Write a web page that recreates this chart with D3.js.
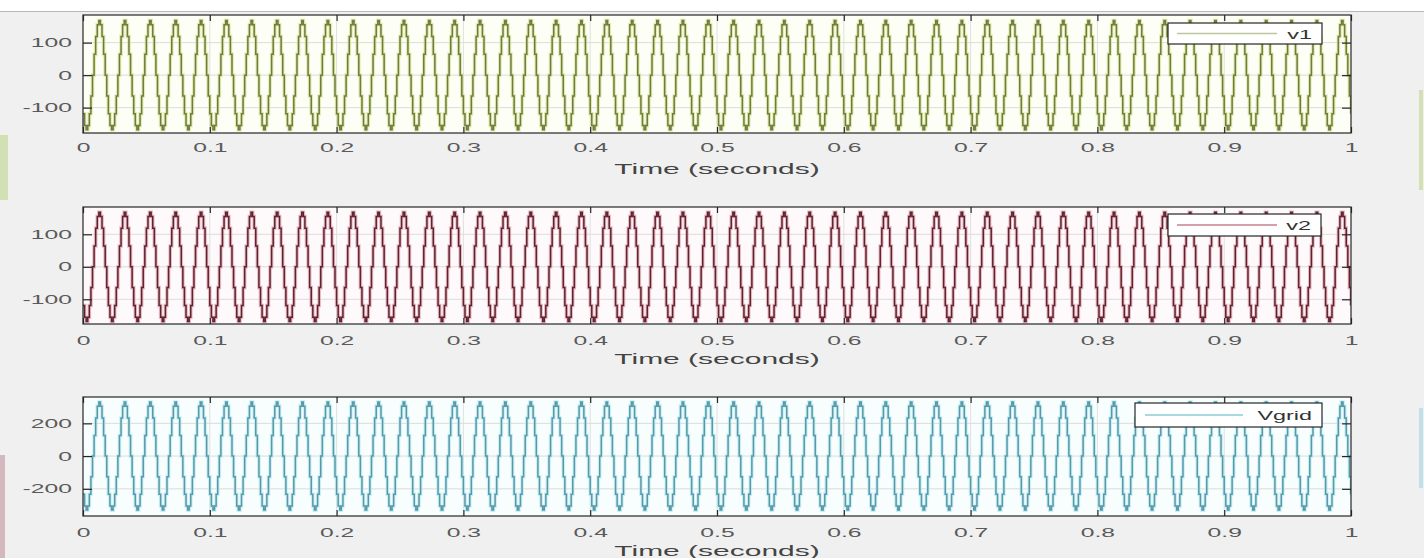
<!DOCTYPE html>
<html>
<head>
<meta charset="utf-8">
<script src="https://cdn.jsdelivr.net/npm/d3@7"></script>
<style>
  body { margin: 0; background: #ffffff; }
  svg { display: block; font-family: "Liberation Sans", Arial, sans-serif; }
</style>
</head>
<body>
<div id="canvas"></div>
<script>
// one held (stepped) cycle of each signal, levels
const cycleV1 = [-119, -155, -168, -155, -119, -64, 0, 64, 119, 155, 168, 155, 119, 64, 0, -64];
const cycleV2 = [-119, -155, -168, -155, -119, -64, 0, 64, 119, 155, 168, 155, 119, 64, 0, -64];
const cycleVgrid = [-233, -305, -330, -305, -233, -126, 0, 126, 233, 305, 330, 305, 233, 126, 0, -126];
const cycles = 50;          // 50 Hz over 1 s
const period = 0.02;

const xTicks = [0, 0.1, 0.2, 0.3, 0.4, 0.5, 0.6, 0.7, 0.8, 0.9, 1];
const yTicksSmall = [-100, 0, 100];
const yTicksBig = [-200, 0, 200];

const names = ["v1", "v2", "Vgrid"];

// build the sampled series from the repeated cycle
const toSeries = cyc => {
  const pts = [];
  const ts = period / cyc.length;
  for (let c = 0; c < cycles; c++) {
    cyc.forEach((v, k) => pts.push({ t: c * period + k * ts, v: v }));
  }
  pts.push({ t: 1, v: cyc[0] });
  return pts;
};

const panels = [
  { name: names[0], data: toSeries(cycleV1), top: 15, bottom: 133, dom: [-178, 185], ticks: yTicksSmall,
    core: "#6f7a45", halo: "#d3e489", bg: "#fdfef6", legLine: "#b9c79a",
    leg: { x: 1168, y: 23, w: 154, h: 21, lx1: 1177, lx2: 1277 }, tickLab: 147, title: 169 },
  { name: names[1], data: toSeries(cycleV2), top: 207, bottom: 324, dom: [-176, 184], ticks: yTicksSmall,
    core: "#5e2430", halo: "#dfa0ac", bg: "#fefafb", legLine: "#c4828e",
    leg: { x: 1168, y: 214, w: 153, h: 22, lx1: 1177, lx2: 1277 }, tickLab: 340, title: 359 },
  { name: names[2], data: toSeries(cycleVgrid), top: 397, bottom: 516, dom: [-366, 361], ticks: yTicksBig,
    core: "#5a98a6", halo: "#b3eaf4", bg: "#f8fdfe", legLine: "#8ccbd6",
    leg: { x: 1135, y: 403, w: 187, h: 24, lx1: 1145, lx2: 1243 }, tickLab: 532, title: 551 }
];

const width = 1428;
const height = 558;
const left = 83;
const right = 1351;
const sx = 1.9;   // the screenshot is stretched sideways

const svg = d3.select("#canvas").append("svg")
  .attr("width", width)
  .attr("height", height);

// figure background (MATLAB grey) and a white strip at the top
svg.append("rect").attr("x", 0).attr("y", 0).attr("width", width).attr("height", height).attr("fill", "#f0f0f0");
svg.append("rect").attr("x", 0).attr("y", 0).attr("width", width).attr("height", 11).attr("fill", "#ffffff");
svg.append("line").attr("x1", 0).attr("x2", width).attr("y1", 11.5).attr("y2", 11.5).attr("stroke", "#b8b8b8");
svg.append("rect").attr("x", 1424).attr("y", 0).attr("width", 4).attr("height", height).attr("fill", "#ffffff");
// screenshot edge leftovers
svg.append("rect").attr("x", 0).attr("y", 135).attr("width", 8).attr("height", 65).attr("fill", "#c5d89a").attr("opacity", 0.7);
svg.append("rect").attr("x", 0).attr("y", 455).attr("width", 5).attr("height", 103).attr("fill", "#c9a0a8").attr("opacity", 0.7);
svg.append("rect").attr("x", 1419).attr("y", 90).attr("width", 4).attr("height", 100).attr("fill", "#c5d89a").attr("opacity", 0.7);
svg.append("rect").attr("x", 1419).attr("y", 408).attr("width", 4).attr("height", 80).attr("fill", "#b5dbe6").attr("opacity", 0.8);

const x = d3.scaleLinear().domain([0, 1]).range([left, right]);
const fmtX = d => String(d);
const fmtY = d => String(d);   // plain hyphen minus, like MATLAB

panels.forEach((p, i) => {
  const y = d3.scaleLinear().domain(p.dom).range([p.bottom, p.top]);
  const g = svg.append("g");

  g.append("rect")
    .attr("x", left).attr("y", p.top)
    .attr("width", right - left).attr("height", p.bottom - p.top)
    .attr("fill", p.bg);

  // grid
  g.append("g").selectAll("line").data(xTicks.slice(1, -1)).enter().append("line")
    .attr("x1", d => x(d)).attr("x2", d => x(d))
    .attr("y1", p.top).attr("y2", p.bottom)
    .attr("stroke", "#e0e0e0").attr("stroke-width", 1);
  g.append("g").selectAll("line").data(p.ticks).enter().append("line")
    .attr("x1", left).attr("x2", right)
    .attr("y1", d => y(d)).attr("y2", d => y(d))
    .attr("stroke", "#dcdcdc").attr("stroke-width", 1);

  const clipId = "clip" + i;
  svg.append("clipPath").attr("id", clipId).append("rect")
    .attr("x", left).attr("y", p.top - 1)
    .attr("width", right - left).attr("height", p.bottom - p.top + 2);

  const line = d3.line()
    .x(d => x(d.t))
    .y(d => y(d.v))
    .curve(d3.curveStepAfter);

  g.append("path").datum(p.data)
    .attr("clip-path", `url(#${clipId})`)
    .attr("d", line)
    .attr("fill", "none")
    .attr("stroke", p.halo)
    .attr("stroke-width", 3.6)
    .attr("stroke-opacity", 0.7);
  g.append("path").datum(p.data)
    .attr("clip-path", `url(#${clipId})`)
    .attr("d", line)
    .attr("fill", "none")
    .attr("stroke", p.core)
    .attr("stroke-width", 1.5);

  // axes box with inside ticks
  const xAxisB = d3.axisBottom(x).tickValues(xTicks).tickSizeInner(-6).tickSizeOuter(0).tickFormat(fmtX);
  const gx = g.append("g").attr("transform", `translate(0,${p.bottom})`).call(xAxisB);
  gx.selectAll("text")
    .attr("y", p.tickLab - p.bottom + 5).attr("dy", "0")
    .attr("transform", `scale(${sx},1)`)
    .attr("fill", "#5a5a5a").style("font-size", "13px");

  const xAxisT = d3.axisTop(x).tickValues(xTicks).tickSizeInner(-6).tickSizeOuter(0).tickFormat("");
  g.append("g").attr("transform", `translate(0,${p.top})`).call(xAxisT);

  const yAxisL = d3.axisLeft(y).tickValues(p.ticks).tickSizeInner(-9).tickSizeOuter(0).tickFormat(fmtY);
  const gy = g.append("g").attr("transform", `translate(${left},0)`).call(yAxisL);
  gy.selectAll("text")
    .attr("x", -11 / sx)
    .attr("transform", `scale(${sx},1)`)
    .attr("fill", "#5a5a5a").style("font-size", "13px");

  const yAxisR = d3.axisRight(y).tickValues(p.ticks).tickSizeInner(-9).tickSizeOuter(0).tickFormat("");
  g.append("g").attr("transform", `translate(${right},0)`).call(yAxisR);

  svg.selectAll(".domain").attr("stroke", "none");
  g.selectAll(".tick line").attr("stroke", "#262626").attr("stroke-width", 1.2);

  g.append("rect")
    .attr("x", left).attr("y", p.top)
    .attr("width", right - left).attr("height", p.bottom - p.top)
    .attr("fill", "none").attr("stroke", "#262626").attr("stroke-width", 1.2);

  g.append("text")
    .attr("transform", `translate(${(left + right) / 2},${p.title + 5}) scale(2,1)`)
    .attr("text-anchor", "middle")
    .attr("fill", "#444")
    .style("font-size", "15px")
    .text("Time (seconds)");

  // legend
  const lg = g.append("g");
  lg.append("rect")
    .attr("x", p.leg.x).attr("y", p.leg.y)
    .attr("width", p.leg.w).attr("height", p.leg.h)
    .attr("fill", "#ffffff").attr("stroke", "#262626").attr("stroke-width", 1.2);
  lg.append("line")
    .attr("x1", p.leg.lx1).attr("x2", p.leg.lx2)
    .attr("y1", p.leg.y + p.leg.h / 2).attr("y2", p.leg.y + p.leg.h / 2)
    .attr("stroke", p.legLine).attr("stroke-width", 1.6);
  lg.append("text")
    .attr("transform", `translate(${p.leg.x + p.leg.w - 10},${p.leg.y + p.leg.h / 2 + 5}) scale(1.8,1)`)
    .attr("text-anchor", "end")
    .attr("fill", "#333")
    .style("font-size", "13px")
    .text(p.name);
});
</script>
</body>
</html>
